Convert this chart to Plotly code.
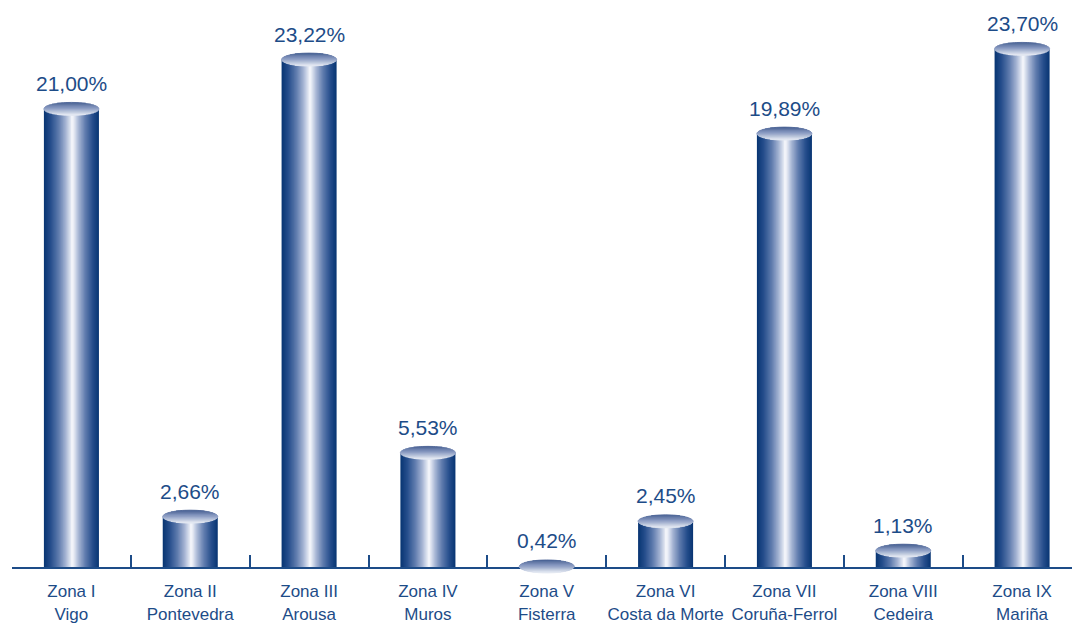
import numpy as np
import plotly.graph_objects as go

# ---------------- data ----------------
zones = ["Zona I", "Zona II", "Zona III", "Zona IV", "Zona V",
         "Zona VI", "Zona VII", "Zona VIII", "Zona IX"]
places = ["Vigo", "Pontevedra", "Arousa", "Muros", "Fisterra",
          "Costa da Morte", "Coruña-Ferrol", "Cedeira", "Mariña"]
values = [21.00, 2.66, 23.22, 5.53, 0.42, 2.45, 19.89, 1.13, 23.70]

categories = [f"{z}<br>{p}" for z, p in zip(zones, places)]

# ---------------- style ----------------
W = 0.463          # bar width (category units)
H = 0.52           # highlight position across the bar (0 left, 1 right)
N_LEVELS = 30      # nested bars to fake the horizontal gradient
Y_MIN, Y_MAX = 0.396, 25.45
PLOT_H = 557       # plot height px (626 - t - b)
RY_PX = 6.5        # ellipse half height in px
TEXT = "#1d4c88"

body_stops = [(0.0, (10, 55, 116)), (0.22, (38, 78, 140)), (0.5, (96, 124, 174)),
              (0.75, (166, 181, 212)), (0.92, (226, 231, 242)), (1.0, (252, 252, 254))]
cap_stops = [(0.0, (66, 91, 143)), (0.45, (134, 152, 192)), (1.0, (232, 236, 244))]


def interp(stops, t):
    for (t0, c0), (t1, c1) in zip(stops[:-1], stops[1:]):
        if t <= t1:
            f = (t - t0) / (t1 - t0) if t1 > t0 else 0
            c = [round(a + (b - a) * f) for a, b in zip(c0, c1)]
            return "rgb(%d,%d,%d)" % tuple(c)
    return "rgb(%d,%d,%d)" % stops[-1][1]


fig = go.Figure()

hpos = -W / 2 + H * W
for j in range(N_LEVELS):
    t = j / N_LEVELS
    left = -W / 2 + t * (hpos + W / 2)
    right = W / 2 - t * (W / 2 - hpos)
    fig.add_trace(go.Bar(
        x=categories, y=values,
        width=right - left, offset=left,
        marker=dict(color=interp(body_stops, t), line=dict(width=0)),
        hoverinfo="skip", showlegend=False,
    ))

# ---------------- cylinder caps (shapes) ----------------
def to_paper(v):
    return (v - Y_MIN) / (Y_MAX - Y_MIN)

ry = RY_PX / PLOT_H
M = 14
shapes = []
for i, v in enumerate(values):
    cy = to_paper(v)
    us = np.linspace(1, -1, M + 1)
    for b in range(M):
        ua, ub = us[b], us[b + 1]
        uu = np.linspace(ua, ub, 8)
        lx = i - (W / 2) * np.sqrt(np.clip(1 - uu ** 2, 0, 1))
        rx = i + (W / 2) * np.sqrt(np.clip(1 - uu[::-1] ** 2, 0, 1))
        pts = [(x, cy + u * ry) for x, u in zip(lx, uu)] + \
              [(x, cy + u * ry) for x, u in zip(rx, uu[::-1])]
        path = "M " + " L ".join(f"{x:.5f},{y:.5f}" for x, y in pts) + " Z"
        col = interp(cap_stops, (b + 0.5) / M)
        shapes.append(dict(type="path", path=path, xref="x", yref="paper",
                           fillcolor=col, line=dict(color=col, width=0.8),
                           layer="above"))

annotations = []
for i, v in enumerate(values):
    annotations.append(dict(
        x=i, y=v, xref="x", yref="y",
        text=f"{v:.2f}".replace(".", ",") + "%",
        showarrow=False, yanchor="bottom", yshift=12,
        font=dict(family="Liberation Sans, Arial, sans-serif", size=21, color=TEXT),
    ))

fig.update_layout(
    width=1072, height=626,
    margin=dict(l=12, r=0, t=10, b=59, autoexpand=False),
    barmode="overlay",
    plot_bgcolor="white", paper_bgcolor="white",
    shapes=shapes, annotations=annotations,
    showlegend=False,
)
fig.update_xaxes(
    type="category", categoryorder="array", categoryarray=categories,
    range=[-0.5, 8.42],
    showline=True, linecolor=TEXT, linewidth=2,
    ticks="inside", tickson="boundaries", ticklen=12, tickwidth=2, tickcolor=TEXT,
    showgrid=False, zeroline=False, tickangle=0, ticklabelstandoff=8,
    tickfont=dict(family="Liberation Sans, Arial, sans-serif", size=17, color=TEXT),
)
fig.update_yaxes(range=[Y_MIN, Y_MAX], visible=False, showgrid=False, zeroline=False)

fig.write_html("out.html", config={"displayModeBar": False},
               post_script="document.body.style.margin='0';document.body.style.overflow='hidden';")
